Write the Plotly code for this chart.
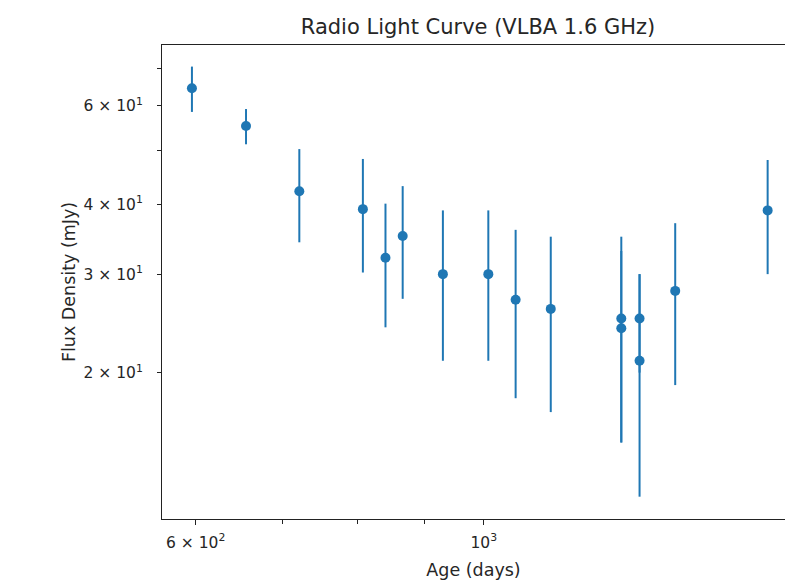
import plotly.graph_objects as go

# Data
age_days = [596, 656, 721, 807, 840, 866, 930, 1008, 1058, 1126, 1276, 1276, 1318, 1318, 1404, 1654]
flux_mjy = [64.5, 55.2, 42.2, 39.2, 32.1, 35.1, 30, 30, 27, 26, 25, 24, 25, 21, 28, 39]
flux_err = [6, 4, 8, 9, 8, 8, 9, 9, 9, 9, 10, 9, 5, 9, 9, 9]

x_tickvals = [600, 1000]
x_ticktext = ["6 × 10<sup>2</sup>", "10<sup>3</sup>"]
x_minor_tickvals = [700, 800, 900]
y_tickvals = [20, 30, 40, 60]
y_ticktext = ["2 × 10<sup>1</sup>", "3 × 10<sup>1</sup>", "4 × 10<sup>1</sup>", "6 × 10<sup>1</sup>"]
y_minor_tickvals = [50, 70]

color = "#1f77b4"
font_family = "DejaVu Sans"
text_color = "#262626"
line_color = "#222222"

fig = go.Figure()
fig.add_trace(go.Scatter(
    x=age_days, y=flux_mjy, mode="markers",
    marker=dict(color=color, size=10),
    error_y=dict(type="data", array=flux_err, visible=True, width=0, thickness=2, color=color),
    showlegend=False, cliponaxis=False,
))

fig.update_layout(
    width=785, height=587,
    margin=dict(l=162, r=0, t=45, b=68),
    paper_bgcolor="white", plot_bgcolor="white",
    font=dict(family=font_family, color=text_color, size=15),
    title=dict(text="Radio Light Curve (VLBA 1.6 GHz)", x=478/785, xanchor="center",
               y=1 - 27/587, yanchor="middle", font=dict(size=21, color=text_color)),
)
fig.update_xaxes(
    type="log", range=[2.7522, 3.2319],
    tickmode="array", tickvals=x_tickvals, ticktext=x_ticktext,
    ticks="outside", ticklen=5, tickwidth=1, tickcolor=line_color,
    minor=dict(tickvals=x_minor_tickvals, ticklen=4, tickwidth=1, tickcolor=line_color,
               ticks="outside", showgrid=False),
    showline=True, linecolor=line_color, linewidth=1, mirror=True,
    showgrid=False, zeroline=False,
    tickfont=dict(size=15.5), ticklabelstandoff=4,
    title=dict(text="Age (days)", font=dict(size=17.5), standoff=13),
)
fig.update_yaxes(
    type="log", range=[1.0393, 1.8868],
    tickmode="array", tickvals=y_tickvals, ticktext=y_ticktext,
    ticks="outside", ticklen=4, tickwidth=1, tickcolor=line_color,
    minor=dict(tickvals=y_minor_tickvals, ticklen=4, tickwidth=1, tickcolor=line_color,
               ticks="outside", showgrid=False),
    showline=True, linecolor=line_color, linewidth=1, mirror=False,
    showgrid=False, zeroline=False,
    tickfont=dict(size=15.5), ticklabelstandoff=11,
    title=dict(text="Flux Density (mJy)", font=dict(size=17.5), standoff=3),
)

fig.write_html(
    "out.html",
    config={"displayModeBar": False},
    post_script="document.body.style.margin='0';document.body.style.overflow='hidden';",
)
